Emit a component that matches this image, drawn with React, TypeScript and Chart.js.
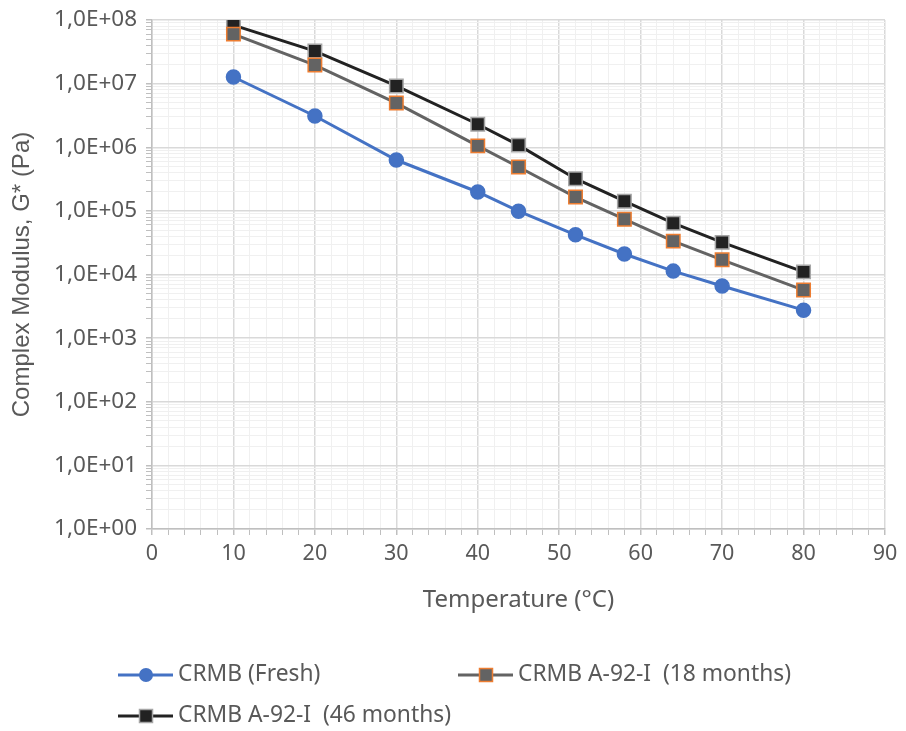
import React, { useEffect, useRef } from 'react';
import { Chart, registerables } from 'chart.js';

Chart.register(...registerables);

const temperatures = [10, 20, 30, 40, 45, 52, 58, 64, 70, 80];
const freshValues = [1.27e7, 3.1e6, 6.3e5, 1.98e5, 9.9e4, 4.2e4, 2.1e4, 1.13e4, 6.6e3, 2.75e3];
const months18Values = [6.0e7, 1.96e7, 4.95e6, 1.05e6, 4.9e5, 1.65e5, 7.4e4, 3.35e4, 1.7e4, 5.7e3];
const months46Values = [8.3e7, 3.25e7, 9.2e6, 2.3e6, 1.08e6, 3.2e5, 1.42e5, 6.4e4, 3.2e4, 1.1e4];
const seriesLabels = ['CRMB (Fresh)', 'CRMB A-92-I  (18 months)', 'CRMB A-92-I  (46 months)'];
const yTickLabels = ['1,0E+00', '1,0E+01', '1,0E+02', '1,0E+03', '1,0E+04', '1,0E+05', '1,0E+06', '1,0E+07', '1,0E+08'];
const xTickLabels = ['0', '10', '20', '30', '40', '50', '60', '70', '80', '90'];

const FONT = "'Noto Sans', sans-serif";
const Y_TITLE_FONT = "'Liberation Sans', Arial, sans-serif";
const TEXT_COLOR = '#595959';
const MAJOR_GRID = '#d9d9d9';
const MINOR_GRID = '#f0f0f0';
const AXIS_COLOR = '#bfbfbf';

const styles = [
  { line: '#4472c4', fill: '#4472c4', border: '#4472c4', shape: 'circle', radius: 7 },
  { line: '#636363', fill: '#636363', border: '#ed7d31', shape: 'rect', radius: 9.5 },
  { line: '#222222', fill: '#222222', border: '#a5a5a5', shape: 'rect', radius: 9.5 },
];

const toPoints = (vals: number[]) => vals.map((v, i) => ({ x: temperatures[i], y: v }));

const isDecade = (v: number) => {
  const e = Math.log10(v);
  return Math.abs(e - Math.round(e)) < 1e-9;
};

const legendPlugin = {
  id: 'customLegend',
  afterDraw(chart: any) {
    const ctx = chart.ctx as CanvasRenderingContext2D;
    const positions = [
      { x: 118, y: 675 },
      { x: 458, y: 675 },
      { x: 118, y: 716 },
    ];
    chart.data.datasets.forEach((ds: any, i: number) => {
      const p = positions[i];
      const st = styles[i];
      ctx.save();
      ctx.strokeStyle = st.line;
      ctx.lineWidth = 3;
      ctx.beginPath();
      ctx.moveTo(p.x, p.y);
      ctx.lineTo(p.x + 55, p.y);
      ctx.stroke();
      const cx = p.x + 28;
      ctx.fillStyle = st.fill;
      ctx.strokeStyle = st.border;
      ctx.lineWidth = 1.5;
      if (st.shape === 'circle') {
        ctx.beginPath();
        ctx.arc(cx, p.y, 7, 0, Math.PI * 2);
        ctx.fill();
      } else {
        ctx.fillRect(cx - 6.5, p.y - 6.5, 13, 13);
        ctx.strokeRect(cx - 6.5, p.y - 6.5, 13, 13);
      }
      ctx.fillStyle = TEXT_COLOR;
      ctx.font = `22.8px ${FONT}`;
      ctx.textBaseline = 'middle';
      ctx.textAlign = 'left';
      ctx.fillText(ds.label, p.x + 60, p.y);
      ctx.restore();
    });
  },
};

export default function App() {
  const canvasRef = useRef<HTMLCanvasElement>(null);

  useEffect(() => {
    if (!canvasRef.current) return;
    const datasets = [freshValues, months18Values, months46Values].map((vals, i) => ({
      label: seriesLabels[i],
      data: toPoints(vals),
      borderColor: styles[i].line,
      backgroundColor: styles[i].fill,
      pointBackgroundColor: styles[i].fill,
      pointBorderColor: styles[i].border,
      pointBorderWidth: 1.5,
      pointStyle: styles[i].shape,
      pointRadius: styles[i].radius,
      borderWidth: 3,
      tension: 0,
    }));
    const chart = new Chart(canvasRef.current, {
      type: 'line',
      data: { datasets: datasets as any },
      plugins: [legendPlugin],
      options: {
        animation: false,
        responsive: false,
        maintainAspectRatio: false,
        layout: { padding: { top: 20, right: 21, bottom: 116, left: 0 } },
        plugins: {
          legend: { display: false },
          tooltip: { enabled: false },
        },
        scales: {
          x: {
            type: 'linear',
            min: 0,
            max: 90,
            afterBuildTicks: (scale: any) => {
              const t = [];
              for (let v = 0; v <= 90; v += 2) t.push({ value: v });
              scale.ticks = t;
            },
            afterFit: (scale: any) => {
              scale.height = 86;
              scale.paddingLeft = 0;
              scale.paddingRight = 0;
            },
            ticks: {
              autoSkip: false,
              maxRotation: 0,
              padding: 6,
              color: TEXT_COLOR,
              font: { family: FONT, size: 21.5 },
              callback: (v: any) => (Number(v) % 10 === 0 ? xTickLabels[Number(v) / 10] : ''),
            },
            grid: {
              color: (c: any) => (c.tick && c.tick.value % 10 === 0 ? MAJOR_GRID : MINOR_GRID),
              lineWidth: (c: any) => (c.tick && c.tick.value % 10 === 0 ? 1.5 : 1),
              tickColor: AXIS_COLOR,
              tickLength: 6,
            },
            border: { color: AXIS_COLOR, width: 1.5 },
            title: {
              display: true,
              text: 'Temperature (°C)',
              color: TEXT_COLOR,
              font: { family: FONT, size: 24 },
              padding: { top: 0, bottom: 0 },
            },
          },
          y: {
            type: 'logarithmic',
            min: 1,
            max: 1e8,
            afterBuildTicks: (scale: any) => {
              const t = [];
              for (let e = 0; e < 8; e++) {
                for (let s = 1; s <= 9; s++) t.push({ value: s * Math.pow(10, e) });
              }
              t.push({ value: 1e8 });
              scale.ticks = t;
            },
            afterFit: (scale: any) => {
              scale.width = 152;
              scale.paddingTop = 0;
              scale.paddingBottom = 0;
            },
            ticks: {
              autoSkip: false,
              padding: 9,
              color: TEXT_COLOR,
              font: { family: FONT, size: 22.5 },
              callback: (v: any) => (isDecade(Number(v)) ? yTickLabels[Math.round(Math.log10(Number(v)))] : ''),
            },
            grid: {
              color: (c: any) => (c.tick && isDecade(c.tick.value) ? MAJOR_GRID : MINOR_GRID),
              lineWidth: (c: any) => (c.tick && isDecade(c.tick.value) ? 1.5 : 1),
              tickColor: AXIS_COLOR,
              tickLength: 6,
            },
            border: { color: AXIS_COLOR, width: 1.5 },
            title: {
              display: true,
              text: 'Complex Modulus, G* (Pa)',
              color: TEXT_COLOR,
              font: { family: Y_TITLE_FONT, size: 24 },
              padding: { top: 8, bottom: 0 },
            },
          },
        },
      },
    });
    return () => chart.destroy();
  }, []);

  return (
    <div style={{ position: 'fixed', left: 0, top: 0, width: 906, height: 731 }}>
      <canvas ref={canvasRef} width={906} height={731} style={{ width: 906, height: 731, display: 'block' }} />
    </div>
  );
}
